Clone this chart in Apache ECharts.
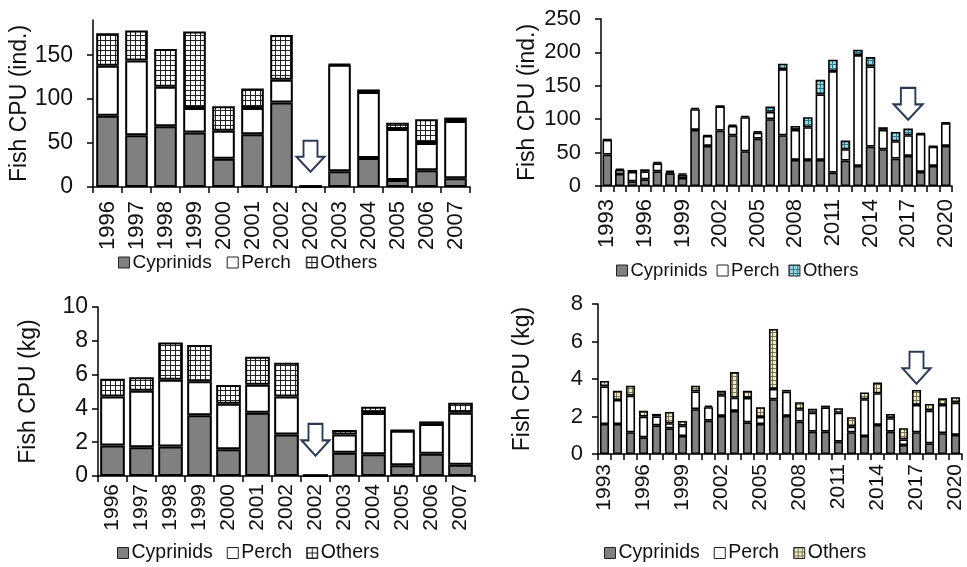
<!DOCTYPE html>
<html>
<head>
<meta charset="utf-8">
<script src="https://cdn.jsdelivr.net/npm/echarts@6/dist/echarts.min.js"></script>
<style>
  html, body { margin: 0; padding: 0; background: #fff; }
  #chart { width: 967px; height: 567px; }
</style>
</head>
<body>
<div id="chart"></div>
<script>
// Catch per unit effort by group: individuals (top) and biomass (bottom)
const yearsShort = ['1996', '1997', '1998', '1999', '2000', '2001', '2002', '2002', '2003', '2004', '2005', '2006', '2007'];
const yearsLong = ['1993', '1994', '1995', '1996', '1997', '1998', '1999', '2000', '2001', '2002', '2003', '2004', '2005', '2006',
                   '2007', '2008', '2009', '2010', '2011', '2012', '2013', '2014', '2015', '2016', '2017', '2018', '2019', '2020'];

// Panel A: individuals, 1996-2007
const cypIndA    = [81, 59, 69, 62, 32, 60, 96, 0, 18, 33, 8, 19, 10];
const perchIndA  = [57, 85, 45, 28, 32, 30, 26, 1, 121, 75, 58, 31, 65];
const othersIndA = [37, 34, 43, 87, 28, 22, 51, 0, 1, 3, 7, 27, 4];

// Panel B: individuals, 1993-2020
const cypIndB    = [47, 18, 7, 10, 22, 19, 12, 84, 60, 83, 76, 52, 71, 100, 76, 39, 39, 39, 20, 38, 30, 59, 55, 41, 45, 21, 30, 60];
const perchIndB  = [22, 6, 14, 12, 12, 2, 5, 31, 15, 36, 14, 51, 9, 11, 99, 45, 49, 98, 152, 17, 166, 120, 29, 26, 31, 57, 29, 34];
const othersIndB = [1, 2, 3, 3, 2, 2, 2, 2, 1, 1, 2, 2, 2, 8, 8, 6, 15, 22, 17, 13, 8, 14, 4, 14, 10, 1, 1, 1];

// Panel C: biomass (kg), 1996-2007
const cypKgC    = [1.8, 1.7, 1.75, 3.6, 1.58, 3.75, 2.45, 0, 1.38, 1.28, 0.63, 1.32, 0.67];
const perchKgC  = [2.9, 3.35, 3.95, 2.0, 2.7, 1.65, 2.25, 0.05, 1.07, 2.45, 2.05, 1.76, 3.08];
const othersKgC = [1.05, 0.8, 2.2, 2.15, 1.1, 1.65, 2.0, 0, 0.27, 0.37, 0.03, 0.15, 0.58];

// Panel D: biomass (kg), 1993-2020
const cypKgD    = [1.6, 1.6, 1.16, 0.89, 1.53, 1.37, 0.96, 2.39, 1.78, 2.03, 2.3, 1.69, 1.6, 2.92, 2.03, 1.73, 1.19, 1.19, 0.66, 1.16, 0.96, 1.55, 1.19, 0.48, 1.16, 0.57, 1.11, 1.02];
const perchKgD  = [2.0, 1.28, 1.95, 1.1, 0.47, 0.27, 0.55, 0.95, 0.72, 1.11, 0.71, 1.3, 0.38, 0.55, 1.3, 0.66, 1.01, 1.3, 1.54, 0.3, 1.96, 1.69, 0.72, 0.3, 1.46, 1.74, 1.51, 1.72];
const othersKgD = [0.3, 0.5, 0.53, 0.32, 0.14, 0.6, 0.25, 0.3, 0.08, 0.23, 1.36, 0.38, 0.52, 3.2, 0.09, 0.37, 0.21, 0.09, 0.24, 0.5, 0.36, 0.57, 0.23, 0.6, 0.8, 0.36, 0.35, 0.29];

// Y-axis tick labels
const ticksA = [0, 50, 100, 150];
const ticksB = [0, 50, 100, 150, 200, 250];
const ticksC = [0, 2, 4, 6, 8, 10];
const ticksD = [0, 2, 4, 6, 8];

// Arrow markers [category index, value] flagging the highlighted year
const arrowA = [7, 35];
const arrowB = [24, 123];
const arrowC = [7, 2.14];
const arrowD = [24, 4.6];

const seriesNames = ['Cyprinids', 'Perch', 'Others'];

const FONT = "'Liberation Sans', Arial, sans-serif";
const TEXT = '#111';

function gridPattern(bg, line, cell) {
  const c = document.createElement('canvas');
  c.width = cell; c.height = cell;
  const g = c.getContext('2d');
  g.fillStyle = bg; g.fillRect(0, 0, cell, cell);
  g.fillStyle = line;
  g.fillRect(0, 0, cell, 1);
  g.fillRect(0, 0, 1, cell);
  return { image: c, repeat: 'repeat' };
}

const patBlack = gridPattern('#ffffff', '#222222', 5);
const patCyan  = gridPattern('#9ed6e0', '#2b7d8c', 4);
const patOlive = gridPattern('#ece8cf', '#7c7650', 4);

const ARROW_PATH = 'path://M7 0 L21 0 L21 16 L28 16 L14 31 L0 16 L7 16 Z';

const panels = [
  {
    cats: yearsShort, values: [cypIndA, perchIndA, othersIndA], others: patBlack,
    grid: { left: 93, top: 20, width: 377, height: 167 },
    max: 190, interval: 50, ticks: ticksA, name: 'Fish CPU (ind.)', nameGap: 58,
    yFont: 23, yMargin: 20, xFont: 22, xMargin: 14, xInterval: 0,
    gap: '22%', bw: 2, arrow: arrowA, arrowSize: [28, 31],
    legend: { left: 118, top: 253, font: 19, gap: 15 }
  },
  {
    cats: yearsLong, values: [cypIndB, perchIndB, othersIndB], others: patCyan,
    grid: { left: 601, top: 19, width: 351, height: 167 },
    max: 250, interval: 50, ticks: ticksB, name: 'Fish CPU (ind.)', nameGap: 62,
    yFont: 22, yMargin: 20, xFont: 22, xMargin: 13, xInterval: 2,
    gap: '24%', bw: 1.6, arrow: arrowB, arrowSize: [29, 32],
    legend: { left: 616, top: 261, font: 18.5, gap: 9 }
  },
  {
    cats: yearsShort, values: [cypKgC, perchKgC, othersKgC], others: patBlack,
    grid: { left: 98, top: 307, width: 377, height: 169 },
    max: 10, interval: 2, ticks: ticksC, name: 'Fish CPU (kg)', nameGap: 58,
    yFont: 23, yMargin: 10, xFont: 21, xMargin: 8, xInterval: 0,
    gap: '15%', bw: 2, arrow: arrowC, arrowSize: [28, 32],
    legend: { left: 117, top: 543, font: 19.5, gap: 14 }
  },
  {
    cats: yearsLong, values: [cypKgD, perchKgD, othersKgD], others: patOlive,
    grid: { left: 598, top: 304, width: 364, height: 150 },
    max: 8, interval: 2, ticks: ticksD, name: 'Fish CPU (kg)', nameGap: 64,
    yFont: 22, yMargin: 15, xFont: 21, xMargin: 10, xInterval: 2,
    gap: '30%', bw: 1.6, arrow: arrowD, arrowSize: [28, 32],
    legend: { left: 604, top: 543, font: 19.5, gap: 14 }
  }
];

const axisLineStyle = { color: '#000', width: 1.5 };

const option = {
  animation: false,
  backgroundColor: '#fff',
  grid: [], xAxis: [], yAxis: [], series: [], legend: []
};

panels.forEach((p, i) => {
  option.grid.push(Object.assign({ containLabel: false }, p.grid));

  option.xAxis.push({
    type: 'category', gridIndex: i, data: p.cats, boundaryGap: true,
    axisLine: { lineStyle: axisLineStyle },
    axisTick: { show: true, interval: 0, length: 6, inside: false, lineStyle: axisLineStyle },
    axisLabel: { rotate: 90, interval: p.xInterval, margin: p.xMargin, fontSize: p.xFont, fontFamily: FONT, color: TEXT },
    splitLine: { show: false }
  });

  option.yAxis.push({
    type: 'value', gridIndex: i, min: 0, max: p.max, interval: p.interval,
    name: p.name, nameLocation: 'middle', nameGap: p.nameGap,
    nameTextStyle: { fontSize: 23, fontFamily: FONT, color: TEXT },
    axisLine: { show: true, lineStyle: axisLineStyle },
    axisTick: { show: true, length: 6, inside: false, customValues: p.ticks, lineStyle: axisLineStyle },
    axisLabel: { customValues: p.ticks, margin: p.yMargin, fontSize: p.yFont, fontFamily: FONT, color: TEXT },
    splitLine: { show: false }
  });

  const fills = ['#808080', '#ffffff', p.others];
  seriesNames.forEach((nm, k) => {
    const s = {
      type: 'bar', name: nm, stack: 'panel' + i,
      xAxisIndex: i, yAxisIndex: i,
      data: p.values[k],
      barCategoryGap: p.gap,
      itemStyle: { color: fills[k], borderColor: '#000', borderWidth: p.bw },
      emphasis: { disabled: true }
    };
    if (k === 2) {
      s.markPoint = {
        symbol: ARROW_PATH, symbolSize: p.arrowSize, silent: true,
        label: { show: false },
        itemStyle: { color: '#ffffff', borderColor: '#2d3a57', borderWidth: 2 },
        data: [{ coord: p.arrow }]
      };
    }
    option.series.push(s);
  });

  option.legend.push({
    left: p.legend.left, top: p.legend.top, orient: 'horizontal', padding: 0,
    itemWidth: 11, itemHeight: 11, itemGap: p.legend.gap,
    selectedMode: false,
    itemStyle: { borderColor: '#222', borderWidth: 1 },
    textStyle: { fontSize: p.legend.font, fontFamily: FONT, color: TEXT, padding: [0, 0, 0, -2] },
    data: [
      { name: 'Cyprinids', icon: 'rect', itemStyle: { color: '#808080', borderColor: '#222', borderWidth: 1 } },
      { name: 'Perch', icon: 'rect', itemStyle: { color: '#ffffff', borderColor: '#222', borderWidth: 1 } },
      { name: 'Others', icon: 'rect', itemStyle: { color: p.others, borderColor: '#222', borderWidth: 1 } }
    ]
  });
});

const chart = echarts.init(document.getElementById('chart'), null, { renderer: 'canvas' });
chart.setOption(option);
</script>
</body>
</html>
